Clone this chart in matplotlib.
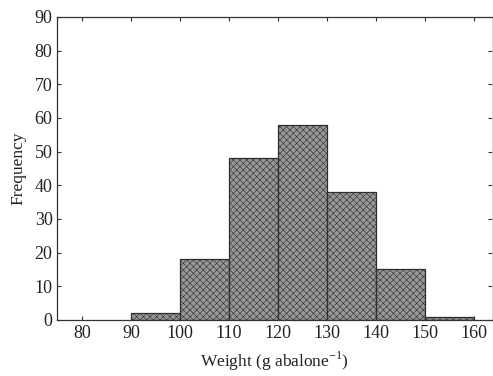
import matplotlib.pyplot as plt
import numpy as np

bin_edges = [90, 100, 110, 120, 130, 140, 150, 160]
counts = [2, 18, 48, 58, 38, 15, 1]
x_ticks = [80, 90, 100, 110, 120, 130, 140, 150, 160]
y_ticks = [0, 10, 20, 30, 40, 50, 60, 70, 80, 90]

plt.rcParams["font.family"] = ["Liberation Serif", "DejaVu Serif"]
plt.rcParams["hatch.color"] = "#7a7a7a"
plt.rcParams["hatch.linewidth"] = 0.4

fig = plt.figure(figsize=(4.93, 3.76), dpi=100)
ax = fig.add_axes([0.1166, 0.149, 0.8814, 0.806])

lefts = np.array(bin_edges[:-1])
widths = np.diff(bin_edges)
ax.bar(lefts, counts, width=widths, align="edge", facecolor="#979797",
       edgecolor="#2e2e2e", linewidth=0.9, hatch="xxxxx")

ax.set_xlim(75, 163.6)
ax.set_ylim(0, 90)
ax.set_xticks(x_ticks)
ax.set_yticks(y_ticks)
ax.tick_params(direction="in", length=3, width=0.8, labelsize=13,
               top=True, right=True, colors="#333333", labelcolor="#222222")
for side in ["left", "bottom", "top"]:
    ax.spines[side].set_color("#333333")
    ax.spines[side].set_linewidth(0.9)
ax.spines["right"].set_color("#cccccc")
ax.spines["right"].set_linewidth(0.6)

ax.set_xlabel("Weight (g abalone$^{\\mathregular{-1}}$)", fontsize=12.5, color="#222222", labelpad=6)
ax.set_ylabel("Frequency", fontsize=12.5, color="#222222", labelpad=6)

fig.savefig("out.png", dpi=100)
